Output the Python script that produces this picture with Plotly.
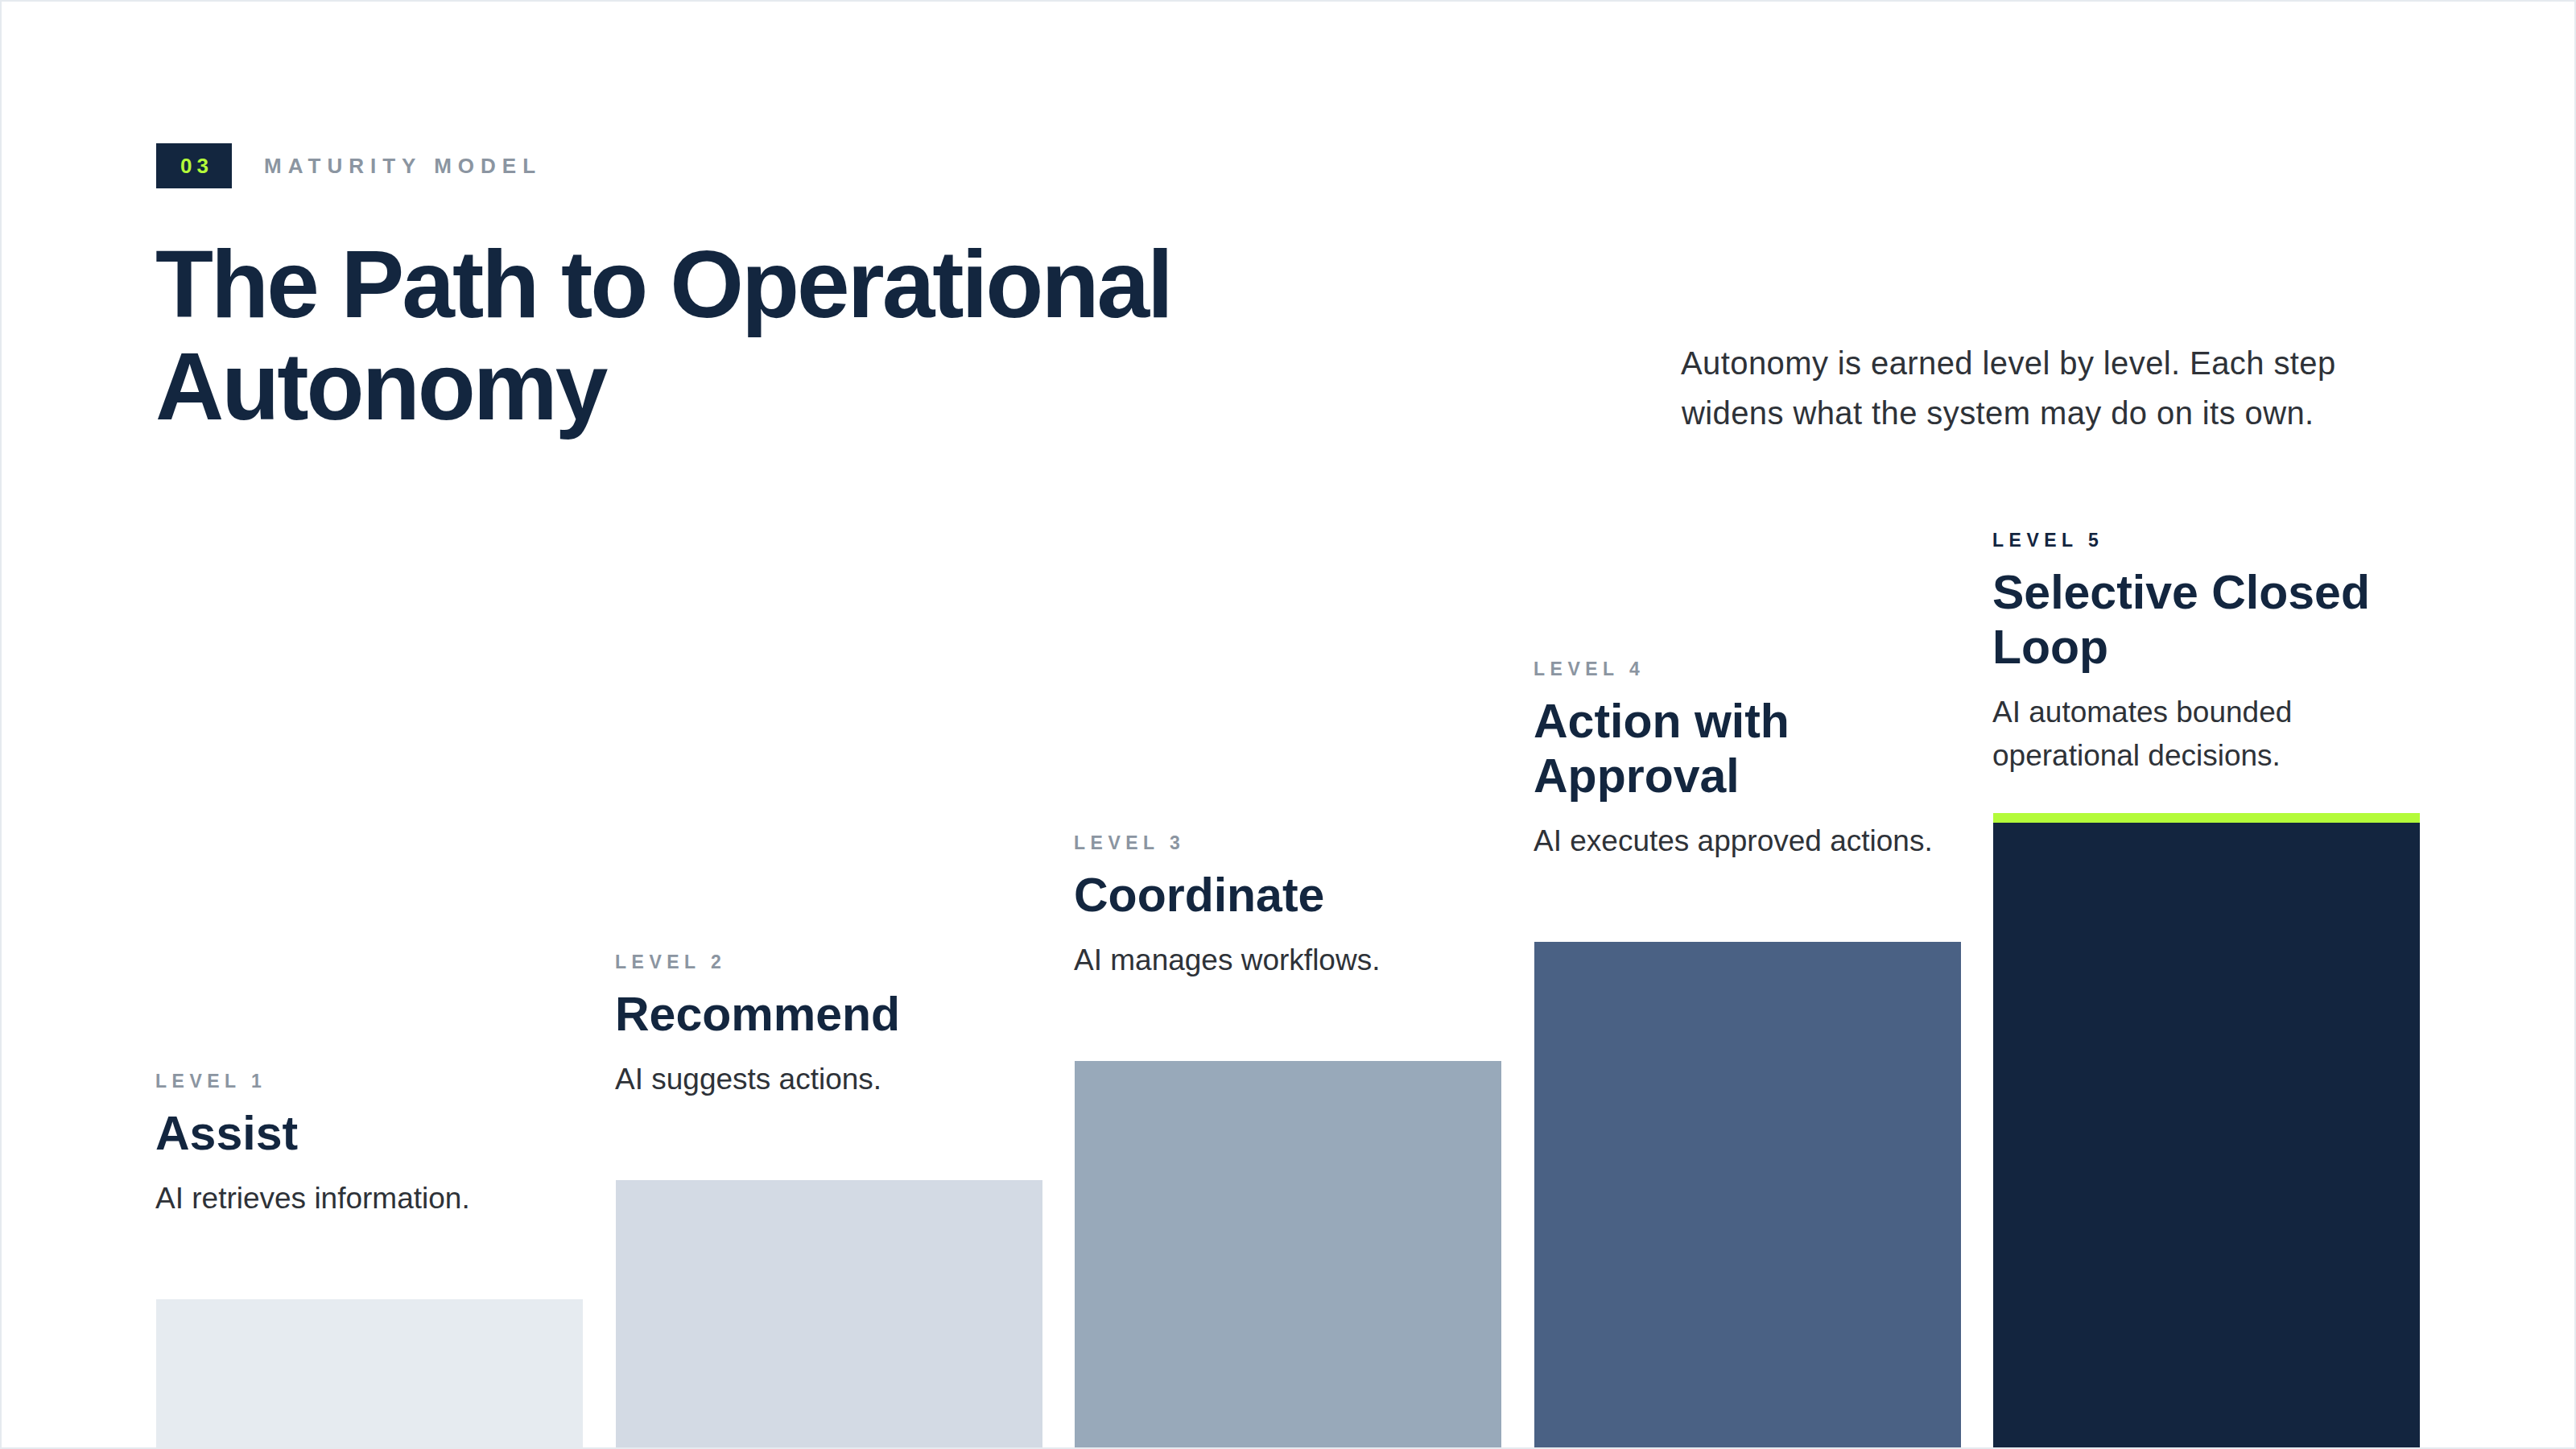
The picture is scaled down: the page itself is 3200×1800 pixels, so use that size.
import plotly.graph_objects as go

W, H = 3200, 1800

# data
levels = [1, 2, 3, 4, 5]
level_labels = ["LEVEL 1", "LEVEL 2", "LEVEL 3", "LEVEL 4", "LEVEL 5"]
titles = [["Assist"], ["Recommend"], ["Coordinate"], ["Action with", "Approval"], ["Selective Closed", "Loop"]]
descs = [["AI retrieves information."], ["AI suggests actions."], ["AI manages workflows."],
         ["AI executes approved actions."], ["AI automates bounded", "operational decisions."]]
bar_colors = ["#e6ebf0", "#d3dae4", "#98a9ba", "#4a6184", "#13253f"]
label_colors = ["#8b95a1", "#8b95a1", "#8b95a1", "#8b95a1", "#13253f"]

NAVY = "#13263f"
LIME = "#b4fb3a"
TEXT = "#2e3238"
FONT = "Liberation Sans"

# geometry (pixels)
PX_PER_X = 570.5      # distance between bar centres
X0_PX = 459           # centre of first bar
BAR_W = 530 / PX_PER_X
PX_PER_LEVEL = 148
Y0_PX = 1762          # pixel row of level 0
BAR_BASE = -0.5       # bars run off the bottom edge
ACCENT_PX = 12

x_pos = [i for i in range(len(levels))]

fig = go.Figure()
fig.add_trace(go.Bar(
    x=x_pos, y=[l - BAR_BASE for l in levels], base=BAR_BASE,
    width=BAR_W, marker=dict(color=bar_colors, line=dict(width=0)),
    hoverinfo="skip", showlegend=False,
))


def px(x):
    return x / W


def py(y):
    return 1 - y / H


def mid(baseline, size):
    return baseline - 0.35 * size


ann = []
shapes = []

# header tag
shapes.append(dict(type="rect", xref="paper", yref="paper", x0=px(194), x1=px(288),
                   y0=py(234), y1=py(178), fillcolor=NAVY, line=dict(width=0), layer="below"))
ann.append(dict(text='<b><span style="letter-spacing:6px">03</span></b>', x=px(244), y=py(206),
                xanchor="center", yanchor="middle", font=dict(family=FONT, size=26, color=LIME)))
ann.append(dict(text='<b><span style="letter-spacing:8px">MATURITY MODEL</span></b>', x=px(326), y=py(206),
                xanchor="left", yanchor="middle", font=dict(family=FONT, size=26, color="#8b95a1")))

# title
for i, line in enumerate(["The Path to Operational", "Autonomy"]):
    ann.append(dict(text='<span style="letter-spacing:-3px"><b>%s</b></span>' % line,
                    x=px(191), y=py(mid(394 + 127 * i, 118)), xanchor="left", yanchor="middle",
                    font=dict(family=FONT, size=118, color=NAVY)))

# subtitle
for i, line in enumerate(["Autonomy is earned level by level. Each step",
                          "widens what the system may do on its own."]):
    ann.append(dict(text='<span style="letter-spacing:0.4px">%s</span>' % line,
                    x=px(2086), y=py(mid(465 + 62 * i, 40)), xanchor="left", yanchor="middle",
                    font=dict(family=FONT, size=40, color=TEXT)))

# column texts, positioned relative to each bar top
for i in range(len(levels)):
    accent = ACCENT_PX if i == len(levels) - 1 else 0
    x_left = x_pos[i] - BAR_W / 2
    n_t = len(titles[i])
    base = dict(x=x_left, y=levels[i], xref="x", yref="y", xanchor="left", yanchor="middle", xshift=-3)
    # level label
    lvl_mid = -(185 + 68 * (n_t - 1) + 86) - accent
    ann.append(dict(base, text='<b><span style="letter-spacing:6.5px">%s</span></b>' % level_labels[i],
                    yshift=-lvl_mid, font=dict(family=FONT, size=23, color=label_colors[i])))
    for j, line in enumerate(titles[i]):
        bl = -185 - 68 * (n_t - 1 - j) - accent
        ann.append(dict(base, text="<b>%s</b>" % line, yshift=-mid(bl, 59),
                        font=dict(family=FONT, size=59, color=NAVY)))
    for j, line in enumerate(descs[i]):
        bl = -113 + 54 * j - accent
        ann.append(dict(base, text=line, yshift=-mid(bl, 37),
                        font=dict(family=FONT, size=37, color=TEXT)))

# lime accent on top of the last bar
shapes.append(dict(type="rect", xref="x", yref="y", x0=x_pos[-1] - BAR_W / 2, x1=x_pos[-1] + BAR_W / 2,
                   ysizemode="pixel", yanchor=levels[-1], y0=0, y1=ACCENT_PX,
                   fillcolor=LIME, line=dict(width=0)))

# slide frame
shapes.append(dict(type="rect", xref="paper", yref="paper", x0=0, x1=1, y0=0, y1=1,
                   line=dict(color="#e5eaef", width=4), fillcolor="rgba(0,0,0,0)"))

fig.update_layout(
    width=W, height=H,
    margin=dict(l=0, r=0, t=0, b=0),
    paper_bgcolor="white", plot_bgcolor="white",
    xaxis=dict(range=[-X0_PX / PX_PER_X, (W - X0_PX) / PX_PER_X], visible=False, fixedrange=True),
    yaxis=dict(range=[-(H - Y0_PX) / PX_PER_LEVEL, Y0_PX / PX_PER_LEVEL], visible=False, fixedrange=True),
    annotations=[dict(a, showarrow=False) if "xref" in a else dict(a, showarrow=False, xref="paper", yref="paper")
                 for a in ann],
    shapes=shapes,
    bargap=0,
)

fig.write_html("out.html", config={"displayModeBar": False},
               post_script="document.body.style.margin='0';")
